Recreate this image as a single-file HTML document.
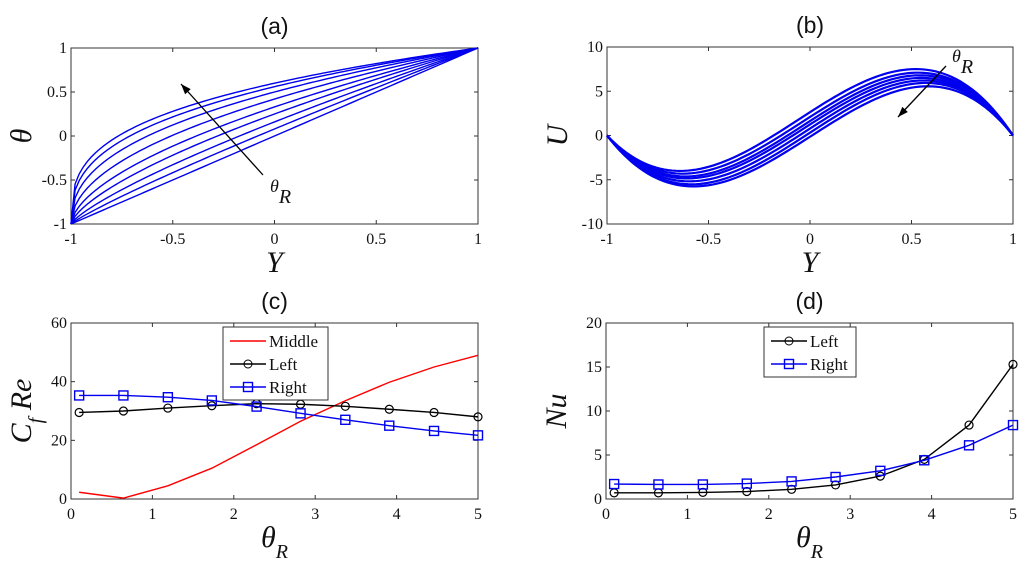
<!DOCTYPE html>
<html><head><meta charset="utf-8"><style>
body{margin:0;background:#fff;}
svg text{font-family:"Liberation Serif",serif;}
</style></head><body>
<svg id="fig" width="1024" height="567" viewBox="0 0 1024 567" xmlns="http://www.w3.org/2000/svg"></svg>
<script>
// ---- data ----
// (a) theta profiles: value of each curve at Y=0
const aMidValues=[0,0.08,0.16,0.25,0.33,0.42,0.5,0.56,0.6];
// (b) U profiles: peak near Y=0.53 and trough near Y=-0.65
const bPeaks=[7.5,7.1,6.8,6.5,6.2,5.9,5.5];
const bTroughs=[-4.0,-4.3,-4.6,-4.8,-5.1,-5.4,-5.6];
// (c),(d)
const thetaR=[0.1,0.644,1.19,1.73,2.28,2.82,3.37,3.91,4.46,5.0];
const cMiddle=[2.3,0.3,4.5,10.5,18.5,26.5,33.5,39.8,45,49];
const cLeft=[29.5,30,31,31.8,32.5,32.3,31.6,30.6,29.5,28];
const cRight=[35.3,35.3,34.7,33.6,31.5,29.2,27,25,23.2,21.7];
const dLeft=[0.7,0.7,0.75,0.85,1.1,1.6,2.6,4.5,8.4,15.3];
const dRight=[1.7,1.65,1.65,1.75,2.0,2.5,3.2,4.4,6.1,8.4];
const yTicksAB=[-1,-0.5,0,0.5,1];
const uTicks=[-10,-5,0,5,10];
const tTicks=[0,1,2,3,4,5];
const cTicks=[0,20,40,60];
const dTicks=[0,5,10,15,20];

const NS="http://www.w3.org/2000/svg";
const fig=document.getElementById('fig');
function el(tag,attrs,parent,txt){const e=document.createElementNS(NS,tag);for(const k in attrs)e.setAttribute(k,attrs[k]);if(txt!==undefined)e.textContent=txt;(parent||fig).appendChild(e);return e;}

function axes(name,L,R,T,B,xmin,xmax,ymin,ymax,xt,yt,title,xlab,ylab){
  const g=el('g',{});
  
  
  const sx=v=>L+(v-xmin)/(xmax-xmin)*(R-L);
  const sy=v=>B-(v-ymin)/(ymax-ymin)*(B-T);
  const box=el('rect',{x:L,y:T,width:R-L,height:B-T,fill:'#fff',stroke:'#333','stroke-width':1},g);
  
  
  xt.forEach(v=>{const x=sx(v);
    el('line',{x1:x,y1:B,x2:x,y2:B-4,stroke:'#333'},g);el('line',{x1:x,y1:T,x2:x,y2:T+4,stroke:'#333'},g);
    const t=el('text',{x:x,y:B+20,'font-size':16,'text-anchor':'middle',fill:'#111'},g,String(v));
    
    });
  yt.forEach(v=>{const y=sy(v);
    el('line',{x1:L,y1:y,x2:L+4,y2:y,stroke:'#333'},g);el('line',{x1:R,y1:y,x2:R-4,y2:y,stroke:'#333'},g);
    const t=el('text',{x:L-4,y:y+5,'font-size':16,'text-anchor':'end',fill:'#111'},g,String(v));
    
    });
  const tt=el('text',{x:(L+R)/2,y:T-14,'font-size':23,'text-anchor':'middle',fill:'#111','style':'font-family:"Liberation Sans",sans-serif'},g,title);
  
  
  const xl=el('text',{x:(L+R)/2,y:B+48,'font-size':30,'font-style':'italic','text-anchor':'middle',fill:'#111'},g);
  xl.innerHTML=xlab;
  
  
  const yl=el('text',{x:0,y:0,'font-size':30,'font-style':'italic','text-anchor':'middle',fill:'#111',transform:`translate(${L-40},${(T+B)/2}) rotate(-90)`},g);
  yl.innerHTML=ylab;
  
  
  return {g,sx,sy};
}
function poly(ax,xs,ys,color,w){return el('polyline',{points:xs.map((x,i)=>ax.sx(x)+','+ax.sy(ys[i])).join(' '),fill:'none',stroke:color,'stroke-width':w||1.4},ax.g);}
function arrow(x1,y1,x2,y2,g){
  el('line',{x1,y1,x2,y2,stroke:'#000','stroke-width':1.3},g);
  const a=Math.atan2(y2-y1,x2-x1),s=11,w=0.35;
  el('polygon',{points:`${x2},${y2} ${x2-s*Math.cos(a-w)},${y2-s*Math.sin(a-w)} ${x2-s*Math.cos(a+w)},${y2-s*Math.sin(a+w)}`,fill:'#000'},g);
}
const thR='θ<tspan font-size="20" baseline-shift="sub">R</tspan>';

// (a)
const A=axes('panel-a',71,478,48,224,-1,1,-1,1,yTicksAB,yTicksAB,'(a)','Y','θ');
const Ys=[];for(let i=0;i<=100;i++)Ys.push(-1+i*0.02);
aMidValues.forEach(v=>{const p=-Math.log2((1+v)/2);
  const l=poly(A,Ys,Ys.map(y=>-1+2*Math.pow((y+1)/2,p)),'#0000ee',1.4);
  
  });
arrow(263,175,181,84,A.g);
el('text',{x:270,y:192,'font-size':18,'font-style':'italic',fill:'#111'},A.g).innerHTML=thR;

// (b)
const Bx=axes('panel-b',607,1013,47,224,-1,1,-10,10,yTicksAB,uTicks,'(b)','Y','U');
bPeaks.forEach((pk,i)=>{const tr=bTroughs[i];
  const p1=pk/(1-0.53*0.53),t1=tr/(1-0.65*0.65);
  const c1=(p1-t1)/(0.53+0.65),c0=p1-0.53*c1;
  const l=poly(Bx,Ys,Ys.map(y=>(1-y*y)*(c0+c1*y)),'#0000ee',2.2);
  
  });
arrow(946,66,898,117,Bx.g);
el('text',{x:952,y:62,'font-size':18,'font-style':'italic',fill:'#111'},Bx.g).innerHTML=thR;

// markers
function markers(ax,xs,ys,color,type){xs.forEach((x,i)=>{const X=ax.sx(x),Y=ax.sy(ys[i]);
  const m=type==='o'?el('circle',{cx:X,cy:Y,r:4,fill:'none',stroke:color,'stroke-width':1.2},ax.g):el('rect',{x:X-4.5,y:Y-4.5,width:9,height:9,fill:'none',stroke:color,'stroke-width':1.4},ax.g);
  
  });}

// (c)
const C=axes('panel-c',71,478,323,499,0,5,0,60,tTicks,cTicks,'(c)',thR,'C<tspan font-size="20" baseline-shift="sub">f</tspan> Re');
let l;
l=poly(C,thetaR,cMiddle,'#ff0000',1.4);
l=poly(C,thetaR,cLeft,'#000',1.4);
markers(C,thetaR,cLeft,'#000','o');
l=poly(C,thetaR,cRight,'#0000ee',1.4);
markers(C,thetaR,cRight,'#0000ee','s');
function legend(g,x,y,w,entries){
  const lg=el('g',{},g);
  
  
  el('rect',{x,y,width:w,height:entries.length*23+4,fill:'#fff',stroke:'#333'},lg);
  entries.forEach((e,i)=>{const yy=y+14+i*23;
    const en=el('g',{},lg);
    
    
    el('line',{x1:x+7,y1:yy,x2:x+43,y2:yy,stroke:e[1],'stroke-width':1.4},en);
    if(e[2]==='o')el('circle',{cx:x+25,cy:yy,r:4,fill:'none',stroke:e[1]},en);
    if(e[2]==='s')el('rect',{x:x+20.5,y:yy-4.5,width:9,height:9,fill:'none',stroke:e[1],'stroke-width':1.4},en);
    el('text',{x:x+46,y:yy+6,'font-size':17,fill:'#111'},en,e[0]);});
}
legend(C.g,223,327,105,[['Middle','#ff0000',''],['Left','#000','o'],['Right','#0000ee','s']]);

// (d)
const D=axes('panel-d',606,1013,323,499,0,5,0,20,tTicks,dTicks,'(d)',thR,'Nu');
l=poly(D,thetaR,dLeft,'#000',1.4);
markers(D,thetaR,dLeft,'#000','o');
l=poly(D,thetaR,dRight,'#0000ee',1.4);
markers(D,thetaR,dRight,'#0000ee','s');
legend(D.g,764,327,92,[['Left','#000','o'],['Right','#0000ee','s']]);
</script>
</body></html>
